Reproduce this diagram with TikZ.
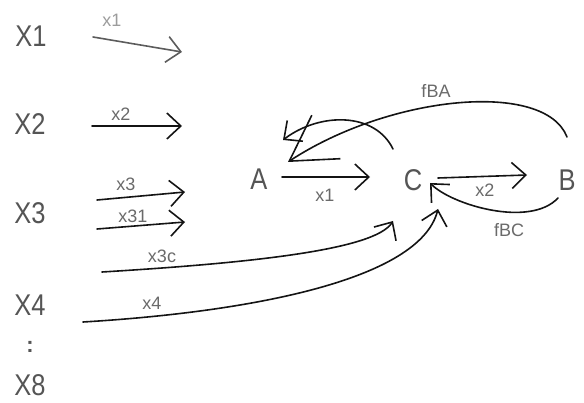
\documentclass[tikz,border=0pt]{standalone}
\usepackage{fontspec}
\setmainfont{Liberation Sans}
\newfontfamily\varfont[FakeStretch=0.85]{Liberation Sans}
\usetikzlibrary{arrows.meta}

\definecolor{labelgray}{HTML}{555555}
\definecolor{taggray}{HTML}{6A6A6A}
\definecolor{fadedtag}{HTML}{9C9C9C}
\definecolor{inkblack}{HTML}{141414}
\definecolor{fadedink}{HTML}{5C5C5C}

\tikzset{
  var/.style={font=\varfont\fontsize{30}{30}\selectfont, text=labelgray, inner sep=0pt},
  tag/.style={font=\fontsize{18}{18}\selectfont, text=taggray, inner sep=0pt},
  flow/.style={line width=1.6pt, draw=inkblack, line cap=round,
    -{Straight Barb[length=14pt,width=26pt]}},
  bigflow/.style={flow, -{Straight Barb[length=44pt,width=52pt]}},
}

\begin{document}
\begin{tikzpicture}[x=1pt,y=-1pt]
\useasboundingbox (0,0) rectangle (584,403);

% input variables on the left
\node[var] (X1) at (31,36) {X1};
\node[var] (X2) at (30,124) {X2};
\node[var] (X3) at (30,213) {X3};
\node[var] (X4) at (30,305) {X4};
\node[var, font=\bfseries\fontsize{22}{22}\selectfont] (dots) at (30,347) {:};
\node[var] (X8) at (30,385) {X8};

% process nodes
\node[var] (A) at (259,179) {A};
\node[var] (C) at (413,180) {C};
\node[var] (B) at (567,180) {B};

% connector end points
\coordinate (x1s) at (93,37);    \coordinate (x1e) at (182,52);
\coordinate (x2s) at (92,126);   \coordinate (x2e) at (182,126);
\coordinate (x3s) at (97,200);   \coordinate (x3e) at (185,192);
\coordinate (x31s) at (97,229);  \coordinate (x31e) at (185,222);
\coordinate (x3cs) at (102,272); \coordinate (x3ce) at (393,221);
\coordinate (x4s) at (83,322);   \coordinate (x4e) at (438,209);
\coordinate (acs) at (282,177);  \coordinate (ace) at (370,177);
\coordinate (cbs) at (438,178);  \coordinate (cbe) at (527,175);
\coordinate (bcs) at (558,198);  \coordinate (bce) at (430,183);
\coordinate (bas) at (567,137);  \coordinate (bae) at (288,162);
\coordinate (cas) at (393,149);  \coordinate (cae) at (283,140);

% input arrows
\draw[flow, draw=fadedink] (x1s) -- (x1e);
\draw[flow] (x2s) -- (x2e);
\draw[flow] (x3s) -- (x3e);
\draw[flow] (x31s) -- (x31e);
\draw[flow] (x3cs) .. controls (250,263) and (375,250) .. (x3ce);
\draw[flow] (x4s) .. controls (250,312) and (420,280) .. (x4e);

% flows between A, C and B
\draw[flow] (acs) -- (ace);
\draw[flow] (cbs) -- (cbe);
\draw[flow] (bcs) .. controls (530,228) and (452,205) .. (bce);
\draw[bigflow] (bas) .. controls (545,80) and (390,95) .. (bae);
\draw[flow] (cas) .. controls (375,112) and (320,112) .. (cae);

% arrow labels
\node[tag, text=fadedtag] (t1) at (112,20) {x1};
\node[tag] (t2) at (121,114) {x2};
\node[tag] (t3) at (126,184) {x3};
\node[tag] (t31) at (133,216) {x31};
\node[tag] (t3c) at (162,256) {x3c};
\node[tag] (t4) at (152,303) {x4};
\node[tag] (tac) at (325,195) {x1};
\node[tag] (tcb) at (485,190) {x2};
\node[tag] (tba) at (436,91) {fBA};
\node[tag] (tbc) at (509,230) {fBC};
\end{tikzpicture}
\end{document}
